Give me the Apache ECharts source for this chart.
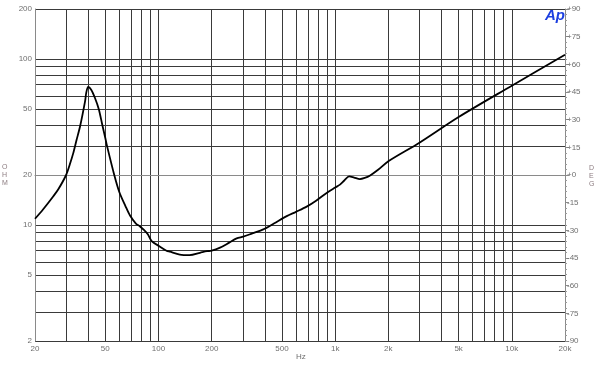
<!DOCTYPE html>
<html>
<head>
<meta charset="utf-8">
<script src="https://cdn.jsdelivr.net/npm/echarts@6/dist/echarts.min.js"></script>
<style>
html,body{margin:0;padding:0;background:#fff;}
#c{width:600px;height:372px;}
</style>
</head>
<body>
<div id="c"></div>
<script>
// Impedance curve (frequency in Hz, impedance in ohm)
var freqHz = [20, 22.2, 25.4, 27.1, 30, 31.5, 32.9, 34.4, 36, 38.4, 39.0, 40, 41.6, 43.7, 45.9, 48.1, 50, 51.1, 56.2, 60, 65, 69, 74.5, 78.6, 83, 87, 91.5, 101, 111, 116, 132, 150, 172, 188, 200, 223, 250, 277, 302, 340, 392, 450, 532, 600, 690, 780, 895, 1000, 1065, 1130, 1200, 1280, 1380, 1470, 1570, 1750, 2000, 3000, 5000, 10000, 20000];
var impedanceOhm = [10.9, 12.4, 14.9, 16.4, 20.0, 23.2, 27.0, 32.6, 39.3, 55.5, 62.5, 67.8, 65.3, 58.2, 50, 40, 33.4, 30, 20, 15.8, 13.0, 11.4, 10.2, 9.8, 9.3, 8.8, 8.0, 7.45, 7.0, 6.9, 6.63, 6.58, 6.8, 6.95, 7.0, 7.3, 7.8, 8.3, 8.5, 8.9, 9.4, 10.2, 11.3, 12.0, 12.9, 14.0, 15.6, 16.8, 17.5, 18.6, 19.6, 19.3, 18.9, 19.2, 19.8, 21.5, 24.2, 31.3, 44.7, 69, 106];

// Axis ticks / labels
var xGridValues = [20, 30, 40, 50, 60, 70, 80, 90, 100, 200, 300, 400, 500, 600, 700, 800, 900, 1000, 2000, 3000, 4000, 5000, 6000, 7000, 8000, 9000, 10000, 20000];
var xTickLabels = [20, 50, 100, 200, 500, 1000, 2000, 5000, 10000, 20000];
var yGridValues = [2, 3, 4, 5, 6, 7, 8, 9, 10, 20, 30, 40, 50, 60, 70, 80, 90, 100, 200];
var yTickLabels = [2, 5, 10, 20, 50, 100, 200];
var degMin = -90, degMax = 90, degStep = 15;

var L = Math.log10;
var lineData = freqHz.map(function (f, i) { return [L(f), L(impedanceOhm[i])]; });

var labelFont = { fontFamily: 'Liberation Sans, Arial, sans-serif', fontSize: 8, color: '#6f6f6f' };
var gridLine = { show: true, lineStyle: { color: '#3a3a3a', width: 1 } };

var chart = echarts.init(document.getElementById('c'), null, { renderer: 'canvas' });
chart.setOption({
  animation: false,
  backgroundColor: '#ffffff',
  grid: { left: 35, right: 35, top: 9, bottom: 31, containLabel: false },
  xAxis: {
    type: 'value',
    min: L(20), max: L(20000),
    axisLine: { show: true, lineStyle: { color: '#8a8a8a' } },
    axisTick: { show: false, customValues: xGridValues.map(L) },
    splitLine: gridLine,
    axisLabel: Object.assign({
      customValues: xTickLabels.map(L),
      margin: 4,
      formatter: function (v) {
        var f = Math.round(Math.pow(10, v));
        return f >= 1000 ? (f / 1000) + 'k' : String(f);
      }
    }, labelFont)
  },
  yAxis: [{
    type: 'value',
    min: L(2), max: L(200),
    position: 'left',
    axisLine: { show: true, lineStyle: { color: '#8a8a8a' } },
    axisTick: { show: false, customValues: yGridValues.map(L) },
    splitLine: gridLine,
    axisLabel: Object.assign({
      customValues: yTickLabels.map(L),
      margin: 3,
      formatter: function (v) { return String(Math.round(Math.pow(10, v))); }
    }, labelFont)
  }, {
    type: 'value',
    min: degMin, max: degMax, interval: degStep,
    position: 'right',
    axisLine: { show: true, lineStyle: { color: '#8a8a8a' } },
    axisTick: { show: true, length: 4, lineStyle: { color: '#8a8a8a' } },
    minorTick: { show: true, splitNumber: 5, length: 2, lineStyle: { color: '#9a9a9a' } },
    splitLine: { show: false },
    axisLabel: Object.assign({
      margin: 2,
      formatter: function (v) { return v >= 0 ? '+' + v : String(v); }
    }, labelFont)
  }],
  graphic: [
    { type: 'text', left: 2, top: 163, style: { text: 'O\nH\nM', fontSize: 7, lineHeight: 8, fill: '#8c7c80', fontFamily: 'Liberation Sans, Arial, sans-serif', align: 'center' } },
    { type: 'text', left: 589, top: 164, style: { text: 'D\nE\nG', fontSize: 7, lineHeight: 8, fill: '#8c7c80', fontFamily: 'Liberation Sans, Arial, sans-serif' } },
    { type: 'text', left: 296, top: 353, style: { text: 'Hz', fontSize: 8, fill: '#6f6f6f', fontFamily: 'Liberation Sans, Arial, sans-serif' } },
    { type: 'text', left: 545, top: 8, style: { text: 'Ap', fontSize: 15, fontWeight: 'bold', fontStyle: 'italic', fill: '#1c3fe0', fontFamily: 'Liberation Sans, Arial, sans-serif' } }
  ],
  series: [{
    type: 'line',
    xAxisIndex: 0, yAxisIndex: 0,
    data: lineData,
    smooth: 0.3,
    showSymbol: false,
    lineStyle: { color: '#000000', width: 1.8 },
    z: 5
  }]
});
</script>
</body>
</html>
